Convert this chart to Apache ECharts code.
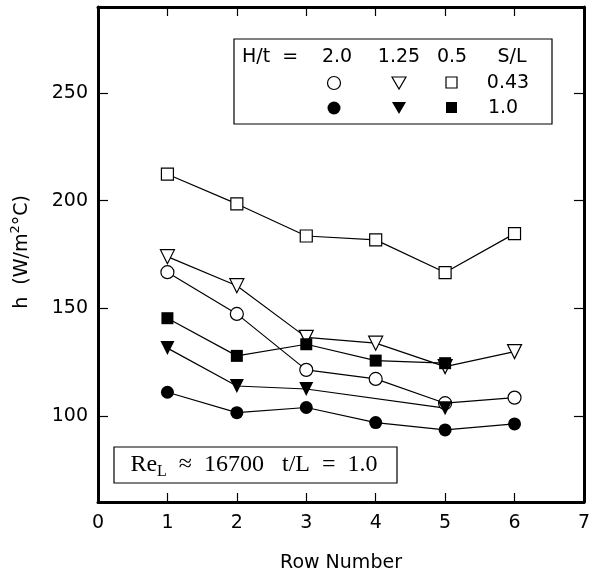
<!DOCTYPE html>
<html>
<head>
<meta charset="utf-8">
<script src="https://cdn.jsdelivr.net/npm/echarts@6/dist/echarts.min.js"></script>
<style>
    html, body { margin: 0; padding: 0; background: #fff; }
    #chart { width: 593px; height: 577px; }
</style>
</head>
<body>
<div id="chart"></div>
<script>
    // row numbers and tick labels
    const rows = [1, 2, 3, 4, 5, 6];
    const xTicks = [0, 1, 2, 3, 4, 5, 6, 7];
    const yTicks = [100, 150, 200, 250];

    // S/L = 0.43 (open symbols)
    const circOpen = [166.8, 147.4, 121.4, 117.2, 105.9, 108.5];   // H/t = 2.0
    const triOpen = [174.0, 160.5, 136.5, 133.8, 122.9, 129.9];    // H/t = 1.25
    const sqOpen = [212.3, 198.5, 183.6, 181.8, 166.6, 184.7];     // H/t = 0.5

    // S/L = 1.0 (filled symbols)
    const circFilled = [111.0, 101.5, 103.9, 96.9, 93.5, 96.3];    // H/t = 2.0
    const triFilledRows = [1, 2, 3, 5];
    const triFilled = [131.5, 113.9, 112.5, 103.6];                 // H/t = 1.25
    const sqFilledRows = [1, 2, 3, 4, 5];
    const sqFilled = [145.4, 127.9, 133.3, 125.7, 124.5];           // H/t = 0.5

    const font = "DejaVu Sans";
    const pairs = (xs, ys) => xs.map((x, i) => [x, ys[i]]);

    function mkSeries(name, xs, ys, symbol, size, filled) {
        return {
            name: name,
            type: "line",
            data: pairs(xs, ys),
            symbol: symbol,
            symbolSize: size,
            symbolRotate: symbol === "triangle" ? 180 : 0,
            showAllSymbol: true,
            lineStyle: { color: "#000", width: 1.2 },
            itemStyle: {
                color: filled ? "#000" : "#fff",
                borderColor: "#000",
                borderWidth: filled ? 0 : 1.2,
            },
            emphasis: { disabled: true },
        };
    }

    const axisLine = { show: true, onZero: false, lineStyle: { color: "#000", width: 3 } };
    const tickStyle = { color: "#000", width: 1.2 };
    const txt = (x, y, s, align) => ({
        type: "text", x: x, y: y,
        style: { text: s, fontFamily: font, fontSize: 19, fill: "#000", align: align || "center", verticalAlign: "middle" },
    });

    const chart = echarts.init(document.getElementById("chart"));
    chart.setOption({
        animation: false,
        grid: { left: 98, top: 7, width: 490, height: 495 },
        xAxis: [
            {
                type: "value", min: 0, max: 7, interval: 1, position: "bottom",
                axisLine: axisLine,
                axisTick: { inside: true, length: 9, lineStyle: tickStyle },
                axisLabel: {
                    color: "#000", fontFamily: font, fontSize: 19, margin: 12,
                    formatter: v => xTicks.indexOf(v) >= 0 ? String(v) : "",
                },
                splitLine: { show: false },
            },
            {
                type: "value", min: 0, max: 7, interval: 1, position: "top",
                axisLine: axisLine,
                axisTick: { inside: true, length: 9, lineStyle: tickStyle },
                axisLabel: { show: false },
                splitLine: { show: false },
            },
        ],
        yAxis: [
            {
                type: "value", min: 60, max: 290, position: "left",
                axisLine: axisLine,
                axisTick: { inside: true, length: 10, lineStyle: tickStyle, customValues: yTicks },
                axisLabel: { color: "#000", fontFamily: font, fontSize: 19, margin: 10, customValues: yTicks },
                splitLine: { show: false },
            },
            {
                type: "value", min: 60, max: 290, position: "right",
                axisLine: axisLine,
                axisTick: { inside: true, length: 10, lineStyle: tickStyle, customValues: yTicks },
                axisLabel: { show: false, customValues: yTicks },
                splitLine: { show: false },
            },
        ],
        series: [
            mkSeries("2.0 / 0.43", rows, circOpen, "circle", 13, false),
            mkSeries("1.25 / 0.43", rows, triOpen, "triangle", 14, false),
            mkSeries("0.5 / 0.43", rows, sqOpen, "rect", 12, false),
            mkSeries("0.5 / 1.0", sqFilledRows, sqFilled, "rect", 12, true),
            mkSeries("1.25 / 1.0", triFilledRows, triFilled, "triangle", 14, true),
            mkSeries("2.0 / 1.0", rows, circFilled, "circle", 13, true),
        ],
        graphic: [
            // y axis name
            {
                type: "text", x: 22, y: 252, rotation: Math.PI / 2,
                style: {
                    text: "{a|h  (W/m}{s|2}{a|°C)}",
                    align: "center", verticalAlign: "middle",
                    rich: {
                        a: { fontFamily: font, fontSize: 19, lineHeight: 26, verticalAlign: "middle", fill: "#000" },
                        s: { fontFamily: font, fontSize: 13, lineHeight: 14, verticalAlign: "top", fill: "#000" },
                    },
                },
            },
            // x axis name
            txt(341, 563, "Row Number"),
            // legend box
            {
                type: "group", z: 100,
                children: [
                    { type: "rect", shape: { x: 234, y: 39, width: 318, height: 85 }, style: { fill: "#fff", stroke: "#000", lineWidth: 1.2 } },
                    txt(242, 57, "H/t  =", "left"),
                    txt(337, 57, "2.0"),
                    txt(399, 57, "1.25"),
                    txt(452, 57, "0.5"),
                    txt(512, 57, "S/L"),
                    txt(508, 83, "0.43"),
                    txt(503, 108, "1.0"),
                    { type: "circle", shape: { cx: 334, cy: 83, r: 6.5 }, style: { fill: "#fff", stroke: "#000", lineWidth: 1.2 } },
                    { type: "polygon", shape: { points: [[392, 77], [406, 77], [399, 89]] }, style: { fill: "#fff", stroke: "#000", lineWidth: 1.2 } },
                    { type: "rect", shape: { x: 446, y: 77, width: 11, height: 11 }, style: { fill: "#fff", stroke: "#000", lineWidth: 1.2 } },
                    { type: "circle", shape: { cx: 334, cy: 108, r: 6.5 }, style: { fill: "#000" } },
                    { type: "polygon", shape: { points: [[392, 102], [406, 102], [399, 114]] }, style: { fill: "#000" } },
                    { type: "rect", shape: { x: 446, y: 102, width: 11, height: 11 }, style: { fill: "#000" } },
                ],
            },
            // Re / t/L annotation box
            {
                type: "group", z: 100,
                children: [
                    { type: "rect", shape: { x: 114, y: 447, width: 283, height: 36 }, style: { fill: "#fff", stroke: "#000", lineWidth: 1.2 } },
                    {
                        type: "text", x: 254, y: 465,
                        style: {
                            text: "{a|Re}{s|L}{a|  ≈  16700   t/L  =  1.0}",
                            align: "center", verticalAlign: "middle",
                            rich: {
                                a: { fontFamily: "Liberation Serif", fontSize: 24, lineHeight: 30, verticalAlign: "middle", fill: "#000" },
                                s: { fontFamily: "Liberation Serif", fontSize: 16, lineHeight: 16, verticalAlign: "bottom", fill: "#000" },
                            },
                        },
                    },
                ],
            },
        ],
    });
</script>
</body>
</html>
